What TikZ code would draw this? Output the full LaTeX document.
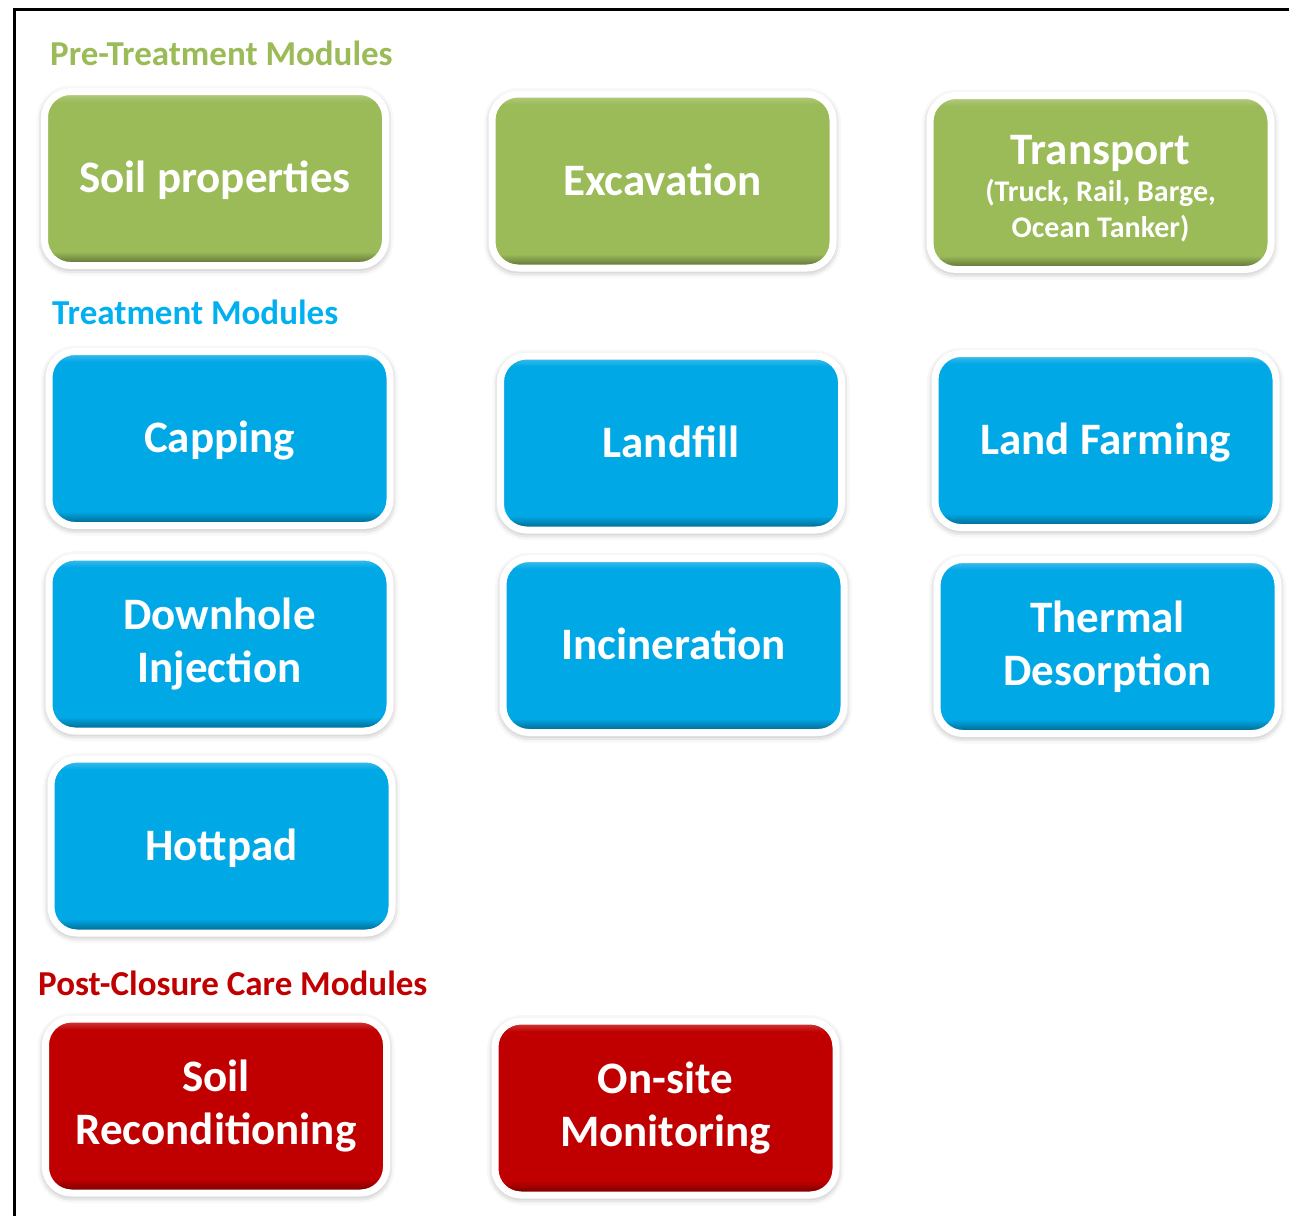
\documentclass[tikz,border=0pt]{standalone}
\usepackage{fontspec}
\setmainfont{Carlito}
\usetikzlibrary{shadows.blur}
\definecolor{pregreen}{RGB}{155,187,89}
\definecolor{treatblue}{RGB}{0,168,230}
\definecolor{headblue}{RGB}{0,176,240}
\definecolor{postred}{RGB}{192,0,0}
% bevelled fills: dark lower rim, light upper rim
\pgfdeclareverticalshading{greenbevel}{100bp}{color(0bp)=(pregreen!55!black); color(25bp)=(pregreen!55!black);
  color(29bp)=(pregreen); color(72bp)=(pregreen); color(75bp)=(pregreen!70!white); color(100bp)=(pregreen!70!white)}
\pgfdeclareverticalshading{bluebevel}{100bp}{color(0bp)=(treatblue!55!black); color(25bp)=(treatblue!55!black);
  color(29bp)=(treatblue); color(72bp)=(treatblue); color(75bp)=(treatblue!70!white); color(100bp)=(treatblue!70!white)}
\pgfdeclareverticalshading{redbevel}{100bp}{color(0bp)=(postred!55!black); color(25bp)=(postred!55!black);
  color(29bp)=(postred); color(72bp)=(postred); color(75bp)=(postred!70!white); color(100bp)=(postred!70!white)}
\tikzset{
  module/.style={draw=white, line width=7pt, rounded corners=26pt,
    minimum width=341pt, minimum height=174pt, inner sep=0pt,
    shading=#1, text=white, align=center,
    font=\bfseries\fontsize{45}{53}\selectfont,
    blur shadow={shadow xshift=0pt, shadow yshift=-2pt,
      shadow blur radius=8pt, shadow opacity=45}},
  oneline/.style={text height=36pt, text depth=8pt},
  heading/.style={anchor=base west, text=#1, inner sep=0pt,
    font=\bfseries\fontsize{35}{40}\selectfont}
}
\newcommand\subline[1]{{\fontsize{30}{36}\selectfont #1}}
\begin{document}
\begin{tikzpicture}[x=1pt,y=-1pt]
  \useasboundingbox (0,0) rectangle (1289,1215);
  \draw[line width=3pt] (14.5,1230) |- (1300,9.5);

  % pre-treatment
  \node[heading=pregreen] (prehead) at (50,66) {Pre-Treatment Modules};
  \node[module=greenbevel,oneline] (soil) at (215,178.5) {Soil properties};
  \node[module=greenbevel,oneline] (excav) at (662.5,181) {Excavation};
  \node[module=greenbevel] (transp) at (1100.5,182.5)
    {\rule{0pt}{42pt}Transport\\[-16pt]\subline{(Truck, Rail, Barge,}\\[-17pt]
     \subline{Ocean Tanker)}};

  % treatment
  \node[heading=headblue] (treathead) at (52,324) {Treatment Modules};
  \node[module=bluebevel,oneline] (capping) at (219.5,438.5) {Capping};
  \node[module=bluebevel,oneline] (landfill) at (671,443) {Landfill};
  \node[module=bluebevel,oneline] (farming) at (1105.5,440.5) {Land Farming};
  \node[module=bluebevel] (downhole) at (219.5,644) {Downhole\\Injection};
  \node[module=bluebevel,oneline] (incin) at (673.5,645.5) {Incineration};
  \node[module=bluebevel] (thermal) at (1107.5,646.5) {Thermal\\Desorption};
  \node[module=bluebevel,oneline] (hottpad) at (221.5,846) {Hottpad};

  % post-closure
  \node[heading=postred] (posthead) at (38,995) {Post-Closure Care Modules};
  \node[module=redbevel] (recond) at (216,1106) {Soil\\Reconditioning};
  \node[module=redbevel] (monitor) at (665.5,1108) {On-site\\Monitoring};
\end{tikzpicture}
\end{document}
